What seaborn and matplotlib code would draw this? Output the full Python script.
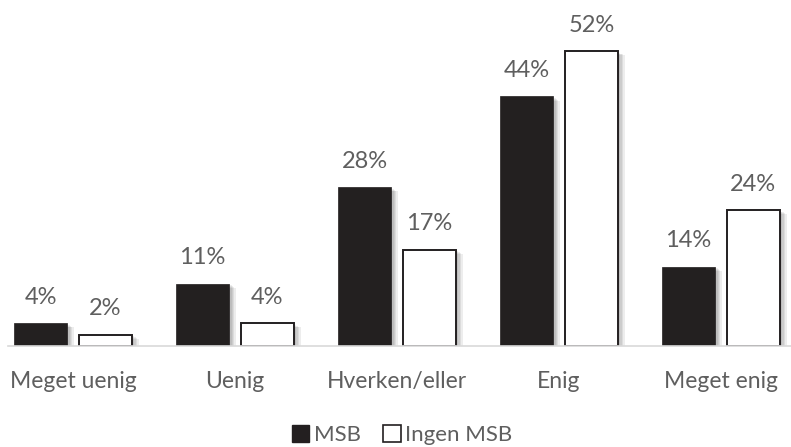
import matplotlib
matplotlib.use("Agg")
import matplotlib.pyplot as plt
import matplotlib.patheffects as pe
from matplotlib.patches import Patch
import pandas as pd
import seaborn as sns

categories = ["Meget uenig", "Uenig", "Hverken/eller", "Enig", "Meget enig"]
msb = [4, 11, 28, 44, 14]
ingen_msb = [2, 4, 17, 52, 24]
series = ["MSB", "Ingen MSB"]

df = pd.DataFrame({
    "kategori": categories * 2,
    "gruppe": [series[0]] * len(categories) + [series[1]] * len(categories),
    "andel": msb + ingen_msb,
})

sns.set_theme(style="white")
plt.rcParams["font.family"] = ["Lato", "DejaVu Sans"]

text_grey = "#5f5f5f"
fig = plt.figure(figsize=(7.91, 4.47), dpi=100)
ax = fig.add_axes([0.0, 1 - 346 / 447, 1.0, 346 / 447])

sns.barplot(data=df, x="kategori", y="andel", hue="gruppe", order=categories,
            hue_order=series, palette={"MSB": "#231f20", "Ingen MSB": "#ffffff"},
            width=0.8, gap=0.19, dodge=True, legend=False, errorbar=None, ax=ax)

shadow = [pe.SimplePatchShadow(offset=(d, -d * 0.6), shadow_rgbFace="black", alpha=0.07)
          for d in (1, 2, 3, 4, 5)] + [pe.Normal()]
for i, cont in enumerate(ax.containers):
    for bar in cont:
        bar.set_edgecolor("#231f20")
        bar.set_linewidth(1.4 if i == 1 else 0.5)
        bar.set_path_effects(shadow)
    vals = msb if i == 0 else ingen_msb
    ax.bar_label(cont, labels=[f"{v}%" for v in vals], padding=11,
                 color=text_grey, fontsize=17)

ax.set_xlim(-73 / 162, (791 - 73) / 162)
ax.set_ylim(0, 61)
ax.set_xlabel("")
ax.set_ylabel("")
ax.set_yticks([])
for s in ["top", "right", "left"]:
    ax.spines[s].set_visible(False)
ax.spines["bottom"].set_color("#d9d9d9")
ax.spines["bottom"].set_linewidth(1.2)
ax.spines["bottom"].set_bounds(-65 / 162, (791 - 73) / 162)
ax.tick_params(axis="x", length=0, pad=18, labelsize=16.5, labelcolor=text_grey)

handles = [Patch(facecolor="#231f20", edgecolor="#231f20", label=series[0]),
           Patch(facecolor="white", edgecolor="#231f20", linewidth=1.2, label=series[1])]
fig.legend(handles=handles, loc="center", bbox_to_anchor=(402 / 791, 1 - 435 / 447),
           ncol=2, frameon=False, fontsize=16, labelcolor=text_grey,
           handlelength=0.8, handleheight=0.8, handletextpad=0.2, columnspacing=1.0)

fig.savefig("out.png", dpi=100)
